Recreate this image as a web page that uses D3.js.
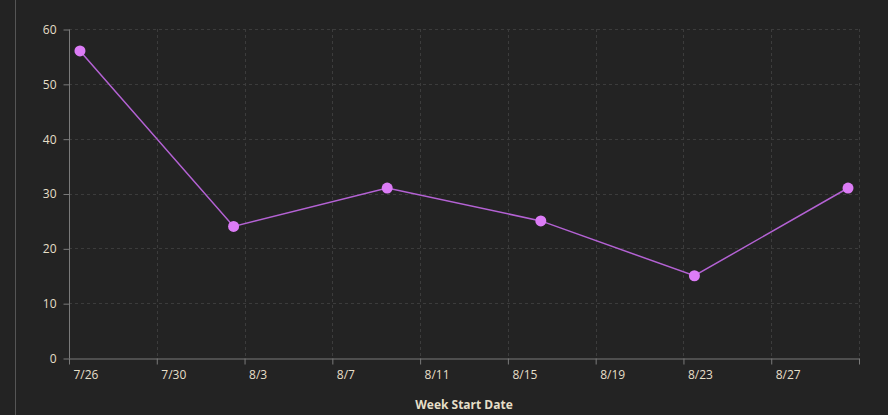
<!DOCTYPE html>
<html lang="en">
<head>
    <meta charset="UTF-8">
    <title>Week Start Date</title>
    <script src="https://d3js.org/d3.v7.min.js"></script>
    <style>
        body { margin: 0; background: #232323; }
        text { font-family: "Open Sans", "Noto Sans", sans-serif; }
    </style>
</head>
<body>
    <svg id="chart" width="888" height="415"></svg>

    <script>
        // Weekly points (drawn at noon of each week start day)
        var weekStarts = ["2023-07-26T12:00", "2023-08-02T12:00", "2023-08-09T12:00",
                          "2023-08-16T12:00", "2023-08-23T12:00", "2023-08-30T12:00"];
        var counts = [56, 24, 31, 25, 15, 31];
        var yTicks = [0, 10, 20, 30, 40, 50, 60];
        var xTicks = ["2023-07-26", "2023-07-30", "2023-08-03", "2023-08-07", "2023-08-11",
                      "2023-08-15", "2023-08-19", "2023-08-23", "2023-08-27"];

        var parse = d3.timeParse("%Y-%m-%dT%H:%M");
        var parseDay = d3.timeParse("%Y-%m-%d");
        var data = weekStarts.map((d, i) => ({ date: parse(d), value: counts[i] }));

        var svg = d3.select("#chart");
        var mLeft = 69, mRight = 859, mTop = 29, mBottom = 358;

        var x = d3.scaleTime()
            .domain([parseDay("2023-07-26"), parseDay("2023-08-31")])
            .range([mLeft, mRight]);
        var y = d3.scaleLinear().domain([0, 60]).range([mBottom, mTop]);
        var xEnd = x.domain()[1];

        // panel border on the left
        svg.append("line")
            .attr("x1", 15.5).attr("x2", 15.5)
            .attr("y1", 0).attr("y2", 415)
            .attr("stroke", "#555").attr("stroke-width", 1);

        // grid
        var grid = svg.append("g").attr("stroke", "#3c3c3c").attr("stroke-dasharray", "3,3");
        grid.selectAll(".hg")
            .data(yTicks.filter(d => d > 0))
            .enter().append("line")
            .attr("x1", mLeft).attr("x2", mRight)
            .attr("y1", d => Math.round(y(d)) + 0.5).attr("y2", d => Math.round(y(d)) + 0.5);
        grid.selectAll(".vg")
            .data(xTicks.slice(1).map(parseDay).concat([xEnd]))
            .enter().append("line")
            .attr("x1", d => Math.round(x(d)) + 0.5).attr("x2", d => Math.round(x(d)) + 0.5)
            .attr("y1", mTop).attr("y2", mBottom);

        // y axis
        var yAxis = svg.append("g")
            .attr("transform", "translate(" + (mLeft + 0.5) + ",0.5)")
            .call(d3.axisLeft(y).tickValues(yTicks).tickSize(6).tickPadding(7));
        yAxis.select(".domain").attr("stroke", "#7a7a7a").attr("d", "M0," + mTop + "V" + mBottom);
        yAxis.selectAll(".tick line").attr("stroke", "#7a7a7a");
        yAxis.selectAll("text").attr("fill", "#e6dfc8").attr("font-size", "12px");

        // x axis
        var xAxis = svg.append("g")
            .attr("transform", "translate(0," + (mBottom + 0.5) + ")")
            .call(d3.axisBottom(x)
                .tickValues(xTicks.map(parseDay).concat([xEnd]))
                .tickFormat(d => d.getTime() === xEnd.getTime() ? "" : d3.timeFormat("%-m/%-d")(d))
                .tickSize(6).tickSizeOuter(0));
        xAxis.select(".domain").attr("stroke", "#7a7a7a");
        xAxis.selectAll(".tick line").attr("stroke", "#7a7a7a");
        xAxis.selectAll("text")
            .attr("fill", "#e6dfc8")
            .attr("font-size", "12px")
            .attr("text-anchor", "start")
            .attr("dx", 4)
            .attr("y", 12);

        svg.append("text")
            .attr("x", (mLeft + mRight) / 2)
            .attr("y", 409)
            .attr("text-anchor", "middle")
            .attr("font-size", "12px")
            .attr("font-weight", "bold")
            .attr("fill", "#e6dfc8")
            .text("Week Start Date");

        // line and points
        var line = d3.line().x(d => x(d.date)).y(d => y(d.value));
        svg.append("path")
            .datum(data)
            .attr("d", line)
            .attr("fill", "none")
            .attr("stroke", "#b462d4")
            .attr("stroke-width", 1.5);

        svg.selectAll(".pt")
            .data(data)
            .enter().append("circle")
            .attr("class", "pt")
            .attr("cx", d => x(d.date))
            .attr("cy", d => y(d.value))
            .attr("r", 5.5)
            .attr("fill", "#dc7cf6");
    </script>
</body>
</html>
